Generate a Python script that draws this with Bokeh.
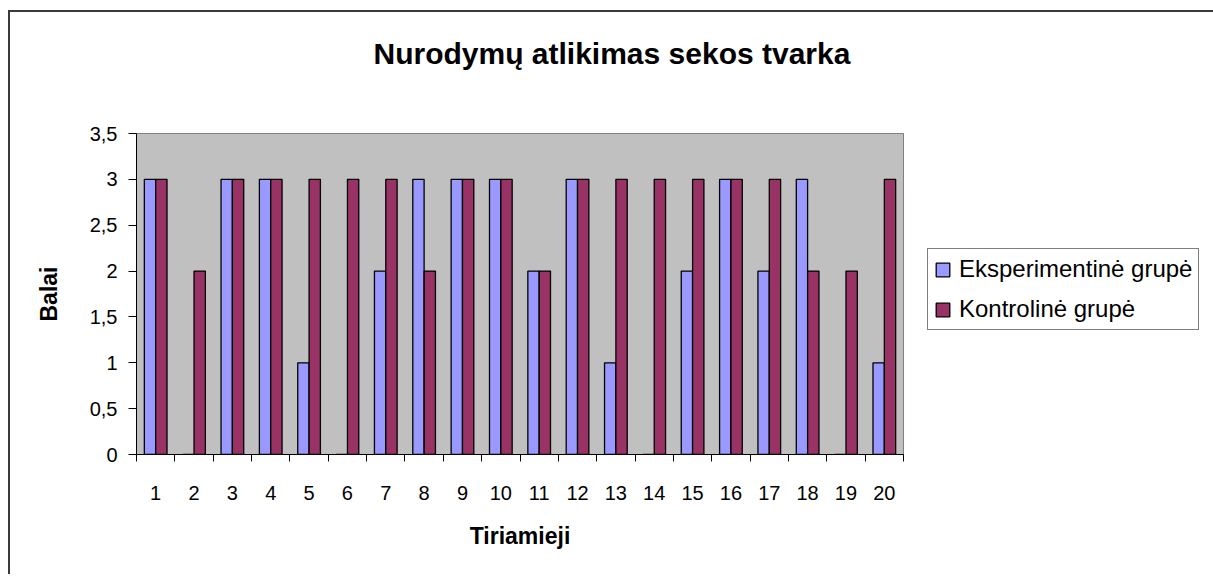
from bokeh.plotting import figure
from bokeh.models import (ColumnDataSource, FixedTicker, Range1d, Legend, LegendItem, Title)
from bokeh.transform import dodge
from bokeh.embed import file_html
from bokeh.resources import INLINE

# ---- data ----
categories = [str(i) for i in range(1, 21)]
x_positions = list(range(1, 21))
eksperimentine = [3, 0, 3, 3, 1, 0, 2, 3, 3, 3, 2, 3, 1, 0, 2, 3, 2, 3, 0, 1]
kontroline = [3, 2, 3, 3, 3, 3, 3, 2, 3, 3, 2, 3, 3, 3, 3, 3, 3, 2, 2, 3]
y_tick_values = [0, 0.5, 1, 1.5, 2, 2.5, 3, 3.5]
y_tick_labels = ["0", "0,5", "1", "1,5", "2", "2,5", "3", "3,5"]
series_names = ["Eksperimentinė grupė", "Kontrolinė grupė"]
series_colors = ["#9999FF", "#993366"]
title_text = "Nurodymų atlikimas sekos tvarka"
x_title = "Tiriamieji"
y_title = "Balai"

FONT = "Liberation Sans"

source = ColumnDataSource(dict(x=x_positions, eksp=eksperimentine, kontr=kontroline))

p = figure(frame_width=767, frame_height=321, output_backend="svg", toolbar_location=None,
           x_range=Range1d(0.5, 20.5), y_range=Range1d(0, 3.5),
           min_border_left=126, min_border_right=310, min_border_top=121, min_border_bottom=120)
p.styles = {"margin-top": "10px", "margin-left": "8px",
            "border-top": "2px solid #3a3a3a", "border-left": "2px solid #3a3a3a"}

p.background_fill_color = "#C0C0C0"
p.border_fill_color = "white"
p.outline_line_color = "#808080"
p.outline_line_width = 1
p.xgrid.visible = False
p.ygrid.visible = False

r1 = p.vbar(x=dodge("x", -0.148, range=p.x_range), top="eksp", width=0.295, source=source,
            fill_color=series_colors[0], line_color="black", line_width=1.3)
r2 = p.vbar(x=dodge("x", 0.148, range=p.x_range), top="kontr", width=0.295, source=source,
            fill_color=series_colors[1], line_color="black", line_width=1.3)

# title: spacer panel between frame and title text
p.title.text = ""
spacer = Title(text=" ", text_font_size="10px", standoff=51, text_color="white")
p.add_layout(spacer, "above")
main_title = Title(text=title_text, text_font=FONT, text_font_size="30px",
                   text_font_style="bold", text_color="black",
                   align="left", offset=237, standoff=0)
p.add_layout(main_title, "above")

# x axis
xa = p.xaxis[0]
xa.ticker = FixedTicker(ticks=x_positions, minor_ticks=[i + 0.5 for i in range(0, 21)])
xa.major_label_overrides = {x: c for x, c in zip(x_positions, categories)}
xa.major_tick_line_color = None
xa.major_tick_out = 7
xa.major_tick_in = 0
xa.minor_tick_line_color = "black"
xa.minor_tick_out = 7
xa.minor_tick_in = 0
xa.axis_line_color = "black"
xa.major_label_text_font = FONT
xa.major_label_text_font_size = "20px"
xa.major_label_text_color = "black"
xa.major_label_standoff = 24
xa.axis_label = x_title
xa.axis_label_text_font = FONT
xa.axis_label_text_font_size = "23px"
xa.axis_label_text_font_style = "bold"
xa.axis_label_text_color = "black"
xa.axis_label_standoff = 20

# y axis
ya = p.yaxis[0]
ya.ticker = FixedTicker(ticks=y_tick_values)
ya.major_label_overrides = {v: l for v, l in zip(y_tick_values, y_tick_labels)}
ya.major_tick_out = 8
ya.major_tick_in = 0
ya.major_tick_line_color = "black"
ya.minor_tick_line_color = None
ya.axis_line_color = "black"
ya.major_label_text_font = FONT
ya.major_label_text_font_size = "20px"
ya.major_label_text_color = "black"
ya.major_label_standoff = 11
ya.axis_label = y_title
ya.axis_label_text_font = FONT
ya.axis_label_text_font_size = "23px"
ya.axis_label_text_font_style = "bold"
ya.axis_label_text_color = "black"
ya.axis_label_standoff = 25

# legend in right panel
lg = Legend(items=[LegendItem(label=series_names[0], renderers=[r1]),
                   LegendItem(label=series_names[1], renderers=[r2])],
            location=(24, 124))
lg.label_text_font = FONT
lg.label_text_font_size = "24px"
lg.label_text_color = "black"
lg.glyph_width = 17
lg.glyph_height = 17
lg.label_height = 28
lg.label_standoff = 8
lg.padding = 6
lg.spacing = 12
lg.margin = 0
lg.border_line_color = "black"
lg.border_line_width = 1
lg.background_fill_color = "white"
lg.background_fill_alpha = 1
p.add_layout(lg, "right")

open("out.html", "w").write(file_html(p, INLINE))
